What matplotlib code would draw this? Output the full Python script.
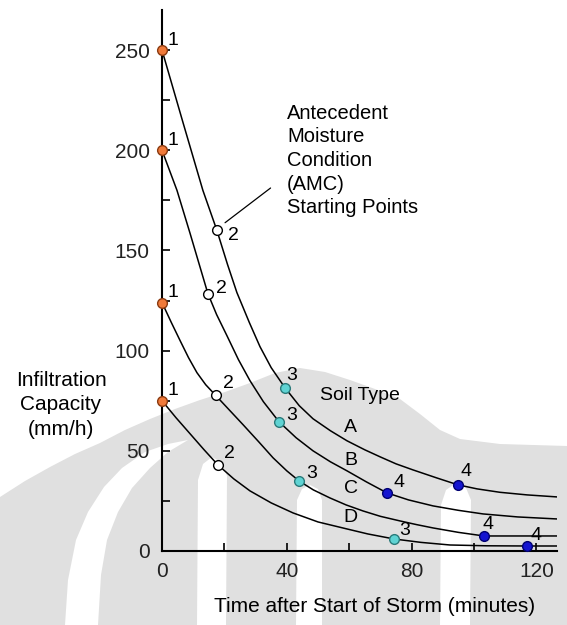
import numpy as np
import matplotlib.pyplot as plt
from matplotlib.patches import Polygon

plt.rcParams['font.family'] = ['Liberation Sans', 'DejaVu Sans']

# curves: time (min), infiltration capacity (mm/h)
t_a = [0, 6.7, 13.1, 17.6, 21, 24, 28, 31.4, 35, 39.4, 44, 48.4, 54, 59.3,
       65, 69.9, 75, 80.4, 88, 94.9, 101, 108.3, 117, 126.5]
f_a = [250, 214, 180, 160, 143, 129, 114, 102, 91.5, 81.5, 72.5, 66, 60, 55,
       50.5, 47, 43.5, 40.5, 36.5, 33, 31, 29.3, 28, 27]

t_b = [0, 4.8, 9, 14.7, 17.5, 20.8, 24.5, 28.2, 32.5, 37.5, 43, 48.4, 54,
       59.3, 65.5, 72.1, 79, 86.9, 95, 102.9, 114, 126.5]
f_b = [200, 180, 158.5, 128.5, 118, 107.5, 95.5, 85, 74.5, 64.5, 56.5, 50,
       44.5, 40, 34.5, 29, 25.5, 22.5, 20.3, 18.5, 17, 16]

t_c = [0, 3, 5.8, 8.5, 11.2, 14, 17.3, 21.5, 26, 31, 35.6, 40, 43.9, 48.5,
       53.8, 59, 64.4, 70, 76.3, 81.5, 86.9, 95, 103.2, 115, 126.5]
f_c = [124, 114, 105, 96.5, 89, 83, 77.5, 70.5, 63, 54.5, 46.5, 40, 35, 30.5,
       26.5, 23, 20, 17.3, 15, 13.2, 11.5, 9.3, 7.5, 7.5, 7.5]

t_d = [0, 4.5, 9, 13.5, 17.9, 23, 28.2, 35, 42, 50, 59.3, 66, 74.4, 83,
       92.3, 104, 117, 126.5]
f_d = [75, 66.5, 58.5, 50.5, 43, 36, 30, 24, 19, 14.5, 11, 8.5, 6, 4.3,
       3, 2.6, 2.5, 2.5]

# AMC starting points 1..4 for soils A..D
pt_t = {1: [0, 0, 0, 0], 2: [17.6, 14.7, 17.3, 17.9],
        3: [39.4, 37.5, 43.9, 74.4], 4: [94.9, 72.1, 103.2, 117.0]}
pt_f = {1: [250, 200, 124, 75], 2: [160, 128.5, 78, 43],
        3: [81.5, 64.5, 35, 6], 4: [33, 29, 7.5, 2.5]}
pt_face = {1: '#f07a3a', 2: 'white', 3: '#5fd3d3', 4: '#1515d0'}
pt_edge = {1: '#8a3a10', 2: 'black', 3: '#2a7a7a', 4: '#000070'}
# label offsets (px) of the point numbers, soils A..D
pt_off = {1: [(11, 10)] * 4,
          2: [(17, -5), (14, 5), (12, 11), (12, 11)],
          3: [(7, 12), (13, 6), (13, 7), (11, 8)],
          4: [(8, 13), (12, 10), (4, 11), (9, 10)]}

soil_labels = ['A', 'B', 'C', 'D']
soil_label_t = [60.5, 60.5, 60.5, 60.5]
soil_label_f = [61.5, 45, 31, 16.5]

W, H = 567, 625
fig = plt.figure(figsize=(W / 100, H / 100), dpi=100)

# faint watermark behind the chart
bg = fig.add_axes([0, 0, 1, 1], zorder=-1)
bg.set_xlim(0, W)
bg.set_ylim(H, 0)
bg.axis('off')
grey = '#e0e0e0'
outer = [(0, 497), (25, 481), (50, 467), (75, 454), (100, 443), (125, 430),
         (150, 419), (175, 409), (200, 400), (225, 392), (250, 383),
         (275, 373), (300, 368), (325, 372), (350, 380), (375, 389),
         (400, 399), (420, 414), (440, 430), (460, 439), (500, 444),
         (567, 446), (567, 625), (0, 625)]
bg.add_patch(Polygon(outer, closed=True, color=grey, lw=0))
crescent = [(65, 625), (68, 580), (76, 540), (88, 512), (104, 487),
            (122, 468), (145, 452), (168, 444), (188, 440), (168, 452),
            (150, 468), (132, 488), (118, 512), (107, 540), (101, 575),
            (98, 625)]
strip_l = [(197, 625), (198, 480), (203, 464), (212, 457), (221, 462),
           (227, 476), (226, 625)]
strip_m = [(296, 625), (297, 500), (302, 489), (310, 485), (318, 489),
           (322, 500), (322, 625)]
strip_r = [(440, 625), (441, 505), (446, 490), (456, 483), (466, 488),
           (471, 500), (470, 625)]
for shape in [crescent, strip_l, strip_m, strip_r]:
    bg.add_patch(Polygon(shape, closed=True, color='white', lw=0))

ax = fig.add_axes([162 / W, (H - 551) / H, (557 - 162) / W, (551 - 10) / H])
ax.patch.set_alpha(0)

for t, f in [(t_a, f_a), (t_b, f_b), (t_c, f_c), (t_d, f_d)]:
    ax.plot(t, f, color='black', lw=1.1, zorder=2)

for k in [1, 2, 3, 4]:
    ax.plot(pt_t[k], pt_f[k], 'o', ms=7, mfc=pt_face[k], mec=pt_edge[k],
            mew=1.0, zorder=4, clip_on=False)
    for x, y, (dx, dy) in zip(pt_t[k], pt_f[k], pt_off[k]):
        ax.annotate(str(k), (x, y), xytext=(dx * 0.72, dy * 0.72),
                    textcoords='offset points', fontsize=14,
                    ha='center', va='center')

for lab, x, y in zip(soil_labels, soil_label_t, soil_label_f):
    ax.text(x, y, lab, fontsize=14, ha='center', va='center')

ax.text(63.5, 77.5, 'Soil Type', fontsize=14, ha='center', va='center')

ax.set_xlim(0, 126.6)
ax.set_ylim(0, 270)
ax.spines['top'].set_visible(False)
ax.spines['right'].set_visible(False)
ax.spines['left'].set_linewidth(1.5)
ax.spines['bottom'].set_linewidth(1.5)
ax.set_xticks([0, 40, 80, 120])
ax.set_xticks([20, 60, 100], minor=True)
ax.set_yticks([0, 50, 100, 150, 200, 250])
ax.set_yticks([25, 75, 125, 175, 225], minor=True)
ax.tick_params(which='both', direction='in', length=6, width=1.2,
               labelsize=15, colors='black')
ax.tick_params(axis='y', pad=9)
ax.tick_params(axis='x', pad=8)
for lab in ax.get_xticklabels() + ax.get_yticklabels():
    lab.set_color('#222222')

# annotation text with leader line
ax.annotate('', xy=(19.5, 163), xytext=(35.5, 182),
            arrowprops=dict(arrowstyle='-', lw=0.9, color='black'))
fig.text(287 / W, 1 - 104 / H,
         'Antecedent\nMoisture\nCondition\n(AMC)\nStarting Points',
         fontsize=14.5, ha='left', va='top', linespacing=1.3)

fig.text(61 / W, 1 - 405 / H, 'Infiltration\nCapacity\n(mm/h)',
         fontsize=15, ha='center', va='center', linespacing=1.35)
fig.text(375 / W, 1 - 607 / H, 'Time after Start of Storm (minutes)',
         fontsize=15, ha='center', va='center')

fig.savefig('out.png', dpi=100)
